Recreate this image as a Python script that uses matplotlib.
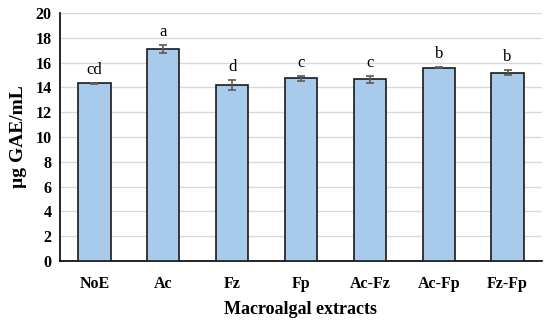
import matplotlib.pyplot as plt

categories = ['NoE', 'Ac', 'Fz', 'Fp', 'Ac-Fz', 'Ac-Fp', 'Fz-Fp']
values = [14.33, 17.1, 14.2, 14.72, 14.67, 15.6, 15.2]
errors = [0.05, 0.33, 0.42, 0.2, 0.28, 0.05, 0.2]
letters = ['cd', 'a', 'd', 'c', 'c', 'b', 'b']

plt.rcParams['font.family'] = ['Liberation Serif', 'DejaVu Serif']

fig = plt.figure(figsize=(5.5, 3.24), dpi=100)
ax = fig.add_axes([60 / 550, 1 - 261 / 324, 482 / 550, 248 / 324])

x = range(len(categories))
ax.bar(x, values, width=0.47, color='#A9CBEB', edgecolor='#1a1a1a', linewidth=1.2,
       yerr=errors, capsize=3, error_kw=dict(ecolor='#595959', elinewidth=1.2, capthick=1.2),
       zorder=3)

# significance letters above each bar
for i, (v, e, lab) in enumerate(zip(values, errors, letters)):
    ax.text(i, v + e + 0.4, lab, ha='center', va='bottom', fontsize=12)

ax.set_xlim(-0.5, len(categories) - 0.5)
ax.set_ylim(0, 20)
ax.set_yticks(range(0, 21, 2))
ax.set_xticks(list(x))
ax.set_xticklabels(categories)
ax.grid(axis='y', color='#d9d9d9', linewidth=1, zorder=0)
ax.tick_params(length=0, labelsize=11.5, pad=6)
ax.tick_params(axis='x', pad=11)
for lab in ax.get_xticklabels() + ax.get_yticklabels():
    lab.set_fontweight('bold')
ax.spines['top'].set_visible(False)
ax.spines['right'].set_visible(False)
ax.spines['left'].set_linewidth(1.2)
ax.spines['bottom'].set_linewidth(1.2)

ax.set_ylabel('µg GAE/mL', fontsize=14, fontweight='bold', labelpad=6)
ax.set_xlabel('Macroalgal extracts', fontsize=13, fontweight='bold', labelpad=6)

fig.savefig('out.png', dpi=100)
